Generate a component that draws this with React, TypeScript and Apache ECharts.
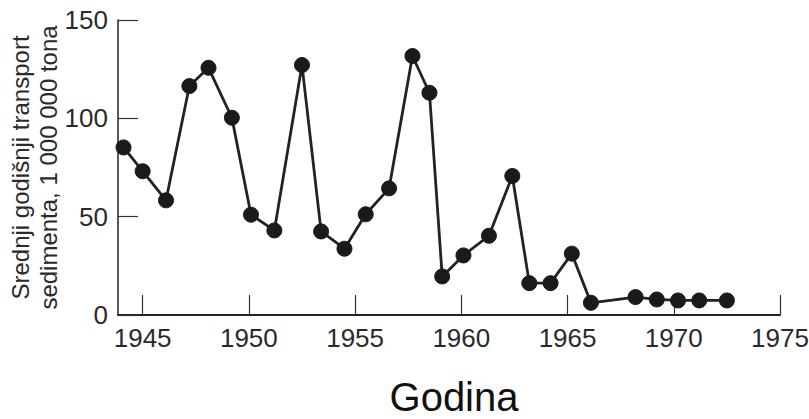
import React, { useEffect, useRef } from "react";
import * as echarts from "echarts";

const years = [
  1944.1, 1945.0, 1946.1, 1947.2, 1948.1, 1949.2, 1950.1, 1951.2, 1952.5, 1953.4,
  1954.5, 1955.5, 1956.6, 1957.7, 1958.5, 1959.1, 1960.1, 1961.3, 1962.4, 1963.2,
  1964.2, 1965.2, 1966.1, 1968.2, 1969.2, 1970.2, 1971.2, 1972.5,
];
const sediment = [
  85.2, 73.1, 58.3, 116.4, 125.7, 100.3, 51.0, 43.0, 127.1, 42.5,
  33.7, 51.2, 64.4, 131.7, 113.0, 19.6, 30.3, 40.3, 70.7, 16.2,
  16.2, 31.2, 6.2, 9.1, 7.9, 7.4, 7.4, 7.4,
];
const xTicks = [1945, 1950, 1955, 1960, 1965, 1970, 1975];
const yTitle = "Srednji godišnji transport\nsedimenta, 1 000 000 tona";
const xTitle = "Godina";

const FONT = "'Liberation Sans', Arial, Helvetica, sans-serif";

export default function App() {
  const ref = useRef<HTMLDivElement>(null);
  useEffect(() => {
    if (!ref.current) return;
    const chart = echarts.init(ref.current, undefined, { renderer: "svg" });
    const points = years.map((y, i) => [y, sediment[i]]);
    chart.setOption({
      animation: false,
      backgroundColor: "#ffffff",
      grid: {
        left: 118,
        right: 29,
        top: 20,
        bottom: 104,
        containLabel: false,
        outerBoundsMode: "none",
      },
      xAxis: {
        type: "value",
        min: 1943.84,
        max: 1975,
        name: xTitle,
        nameLocation: "middle",
        nameGap: 62,
        nameMoveOverlap: false,
        nameTextStyle: {
          fontFamily: FONT,
          fontSize: 40,
          lineHeight: 40,
          color: "#111",
          padding: [0, 0, 0, 10],
        },
        axisLine: { show: true, lineStyle: { color: "#222", width: 2 } },
        axisTick: {
          show: true,
          inside: true,
          length: 20,
          customValues: xTicks,
          lineStyle: { color: "#333", width: 1.2 },
        },
        axisLabel: {
          customValues: xTicks,
          margin: 10,
          fontFamily: FONT,
          fontSize: 26,
          color: "#2a2a2a",
          formatter: (v: number) => String(Math.round(v)),
        },
        splitLine: { show: false },
      },
      yAxis: {
        type: "value",
        min: 0,
        max: 150,
        interval: 50,
        name: yTitle,
        nameLocation: "middle",
        nameGap: 56,
        nameMoveOverlap: false,
        nameTextStyle: { fontFamily: FONT, fontSize: 24, lineHeight: 28, color: "#2a2a2a" },
        axisLine: { show: true, lineStyle: { color: "#222", width: 1.5 } },
        axisTick: { show: true, inside: true, length: 20, lineStyle: { color: "#333", width: 1.2 } },
        axisLabel: { margin: 10, fontFamily: FONT, fontSize: 26, color: "#2a2a2a" },
        splitLine: { show: false },
      },
      series: [
        {
          type: "line",
          data: points,
          symbol: "circle",
          symbolSize: 15,
          lineStyle: { color: "#222", width: 2.8 },
          itemStyle: { color: "#1a1a1a", borderColor: "#1a1a1a" },
        },
      ],
    });
    return () => chart.dispose();
  }, []);
  return (
    <div
      ref={ref}
      style={{ position: "fixed", left: 0, top: 0, width: 809, height: 419, background: "#fff" }}
    />
  );
}
